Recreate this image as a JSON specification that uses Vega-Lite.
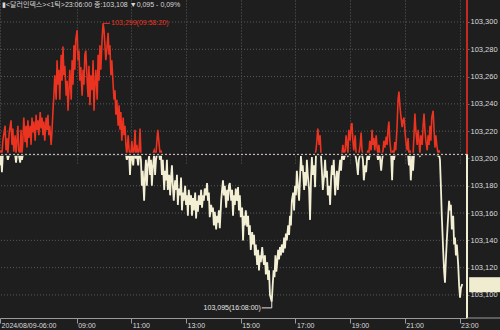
{
  "$schema": "https://vega.github.io/schema/vega-lite/v6.json",
  "width": 467,
  "height": 318,
  "autosize": {"type": "none"},
  "padding": {"left": 0, "top": 0, "right": 33, "bottom": 12},
  "background": "#1e1e1e",
  "config": {"view": {"stroke": null}},
  "datasets": {
    "ticks": [
      {"t":372,"p":103.195},{"t":374,"p":103.206},{"t":376,"p":103.190},{"t":378,"p":103.213},{"t":383,"p":103.224},{"t":385,"p":103.206},{"t":387,"p":103.215},{"t":389,"p":103.199},{"t":392,"p":103.219},{"t":396,"p":103.228},{"t":398,"p":103.210},{"t":400,"p":103.222},{"t":402,"p":103.205},{"t":405,"p":103.217},{"t":407,"p":103.197},{"t":409,"p":103.213},{"t":411,"p":103.224},{"t":413,"p":103.206},{"t":416,"p":103.197},{"t":418,"p":103.221},{"t":420,"p":103.199},{"t":422,"p":103.213},{"t":424,"p":103.230},{"t":427,"p":103.212},{"t":429,"p":103.224},{"t":431,"p":103.208},{"t":433,"p":103.228},{"t":435,"p":103.215},{"t":438,"p":103.224},{"t":440,"p":103.210},{"t":442,"p":103.230},{"t":444,"p":103.219},{"t":446,"p":103.227},{"t":449,"p":103.213},{"t":451,"p":103.232},{"t":453,"p":103.221},{"t":455,"p":103.228},{"t":457,"p":103.217},{"t":460,"p":103.234},{"t":462,"p":103.222},{"t":464,"p":103.230},{"t":466,"p":103.217},{"t":468,"p":103.227},{"t":470,"p":103.213},{"t":473,"p":103.230},{"t":475,"p":103.221},{"t":477,"p":103.232},{"t":479,"p":103.217},{"t":481,"p":103.224},{"t":484,"p":103.210},{"t":486,"p":103.221},{"t":488,"p":103.235},{"t":490,"p":103.246},{"t":492,"p":103.261},{"t":495,"p":103.243},{"t":497,"p":103.272},{"t":499,"p":103.254},{"t":501,"p":103.265},{"t":503,"p":103.243},{"t":506,"p":103.276},{"t":508,"p":103.257},{"t":510,"p":103.282},{"t":512,"p":103.261},{"t":514,"p":103.268},{"t":517,"p":103.246},{"t":519,"p":103.257},{"t":521,"p":103.235},{"t":523,"p":103.250},{"t":525,"p":103.265},{"t":528,"p":103.243},{"t":530,"p":103.272},{"t":532,"p":103.254},{"t":534,"p":103.283},{"t":536,"p":103.265},{"t":538,"p":103.287},{"t":541,"p":103.294},{"t":543,"p":103.272},{"t":545,"p":103.279},{"t":547,"p":103.257},{"t":549,"p":103.267},{"t":552,"p":103.246},{"t":554,"p":103.265},{"t":556,"p":103.254},{"t":558,"p":103.276},{"t":560,"p":103.279},{"t":563,"p":103.257},{"t":565,"p":103.245},{"t":567,"p":103.268},{"t":569,"p":103.239},{"t":571,"p":103.261},{"t":574,"p":103.250},{"t":576,"p":103.272},{"t":578,"p":103.235},{"t":580,"p":103.254},{"t":582,"p":103.265},{"t":585,"p":103.243},{"t":587,"p":103.276},{"t":589,"p":103.257},{"t":591,"p":103.283},{"t":593,"p":103.265},{"t":596,"p":103.289},{"t":598,"p":103.299},{"t":600,"p":103.294},{"t":602,"p":103.283},{"t":604,"p":103.272},{"t":606,"p":103.279},{"t":609,"p":103.292},{"t":611,"p":103.276},{"t":613,"p":103.283},{"t":615,"p":103.261},{"t":617,"p":103.272},{"t":620,"p":103.254},{"t":622,"p":103.243},{"t":624,"p":103.250},{"t":626,"p":103.232},{"t":628,"p":103.243},{"t":631,"p":103.224},{"t":633,"p":103.239},{"t":635,"p":103.221},{"t":637,"p":103.234},{"t":639,"p":103.213},{"t":642,"p":103.230},{"t":644,"p":103.217},{"t":646,"p":103.224},{"t":648,"p":103.210},{"t":650,"p":103.199},{"t":653,"p":103.217},{"t":655,"p":103.206},{"t":657,"p":103.188},{"t":659,"p":103.202},{"t":661,"p":103.213},{"t":664,"p":103.195},{"t":666,"p":103.206},{"t":668,"p":103.221},{"t":670,"p":103.200},{"t":672,"p":103.210},{"t":675,"p":103.195},{"t":677,"p":103.206},{"t":679,"p":103.222},{"t":681,"p":103.199},{"t":683,"p":103.180},{"t":685,"p":103.191},{"t":688,"p":103.169},{"t":690,"p":103.188},{"t":692,"p":103.199},{"t":694,"p":103.180},{"t":696,"p":103.195},{"t":699,"p":103.202},{"t":701,"p":103.188},{"t":703,"p":103.199},{"t":705,"p":103.180},{"t":707,"p":103.193},{"t":710,"p":103.206},{"t":712,"p":103.188},{"t":714,"p":103.199},{"t":716,"p":103.213},{"t":718,"p":103.221},{"t":721,"p":103.210},{"t":723,"p":103.199},{"t":725,"p":103.206},{"t":727,"p":103.188},{"t":729,"p":103.199},{"t":732,"p":103.177},{"t":734,"p":103.191},{"t":736,"p":103.184},{"t":738,"p":103.199},{"t":740,"p":103.177},{"t":743,"p":103.188},{"t":745,"p":103.173},{"t":747,"p":103.186},{"t":749,"p":103.195},{"t":751,"p":103.180},{"t":753,"p":103.169},{"t":756,"p":103.184},{"t":758,"p":103.177},{"t":760,"p":103.188},{"t":762,"p":103.166},{"t":764,"p":103.178},{"t":767,"p":103.173},{"t":769,"p":103.186},{"t":771,"p":103.162},{"t":773,"p":103.175},{"t":775,"p":103.169},{"t":778,"p":103.180},{"t":780,"p":103.166},{"t":782,"p":103.173},{"t":784,"p":103.158},{"t":786,"p":103.177},{"t":789,"p":103.166},{"t":791,"p":103.173},{"t":793,"p":103.158},{"t":795,"p":103.171},{"t":797,"p":103.162},{"t":800,"p":103.175},{"t":802,"p":103.156},{"t":804,"p":103.169},{"t":806,"p":103.161},{"t":808,"p":103.173},{"t":811,"p":103.166},{"t":813,"p":103.177},{"t":815,"p":103.164},{"t":817,"p":103.173},{"t":819,"p":103.169},{"t":821,"p":103.178},{"t":824,"p":103.173},{"t":826,"p":103.182},{"t":828,"p":103.169},{"t":830,"p":103.175},{"t":832,"p":103.157},{"t":835,"p":103.166},{"t":837,"p":103.161},{"t":839,"p":103.164},{"t":841,"p":103.151},{"t":843,"p":103.161},{"t":846,"p":103.148},{"t":848,"p":103.158},{"t":850,"p":103.153},{"t":852,"p":103.162},{"t":854,"p":103.149},{"t":857,"p":103.169},{"t":859,"p":103.177},{"t":861,"p":103.184},{"t":863,"p":103.173},{"t":865,"p":103.180},{"t":868,"p":103.164},{"t":870,"p":103.177},{"t":872,"p":103.169},{"t":874,"p":103.180},{"t":876,"p":103.182},{"t":879,"p":103.169},{"t":881,"p":103.177},{"t":883,"p":103.158},{"t":885,"p":103.173},{"t":887,"p":103.166},{"t":889,"p":103.178},{"t":892,"p":103.169},{"t":894,"p":103.179},{"t":896,"p":103.162},{"t":898,"p":103.173},{"t":900,"p":103.157},{"t":903,"p":103.164},{"t":905,"p":103.140},{"t":907,"p":103.158},{"t":909,"p":103.151},{"t":911,"p":103.162},{"t":914,"p":103.150},{"t":916,"p":103.158},{"t":918,"p":103.144},{"t":920,"p":103.151},{"t":922,"p":103.133},{"t":925,"p":103.146},{"t":927,"p":103.137},{"t":929,"p":103.144},{"t":931,"p":103.129},{"t":933,"p":103.137},{"t":936,"p":103.122},{"t":938,"p":103.133},{"t":940,"p":103.118},{"t":942,"p":103.129},{"t":944,"p":103.124},{"t":947,"p":103.135},{"t":949,"p":103.127},{"t":951,"p":103.122},{"t":953,"p":103.129},{"t":955,"p":103.115},{"t":958,"p":103.124},{"t":960,"p":103.111},{"t":962,"p":103.118},{"t":964,"p":103.100},{"t":968,"p":103.095},{"t":970,"p":103.107},{"t":972,"p":103.118},{"t":974,"p":103.113},{"t":976,"p":103.129},{"t":978,"p":103.117},{"t":980,"p":103.124},{"t":982,"p":103.133},{"t":984,"p":103.126},{"t":986,"p":103.135},{"t":988,"p":103.129},{"t":990,"p":103.137},{"t":993,"p":103.131},{"t":995,"p":103.142},{"t":997,"p":103.134},{"t":999,"p":103.145},{"t":1001,"p":103.140},{"t":1004,"p":103.151},{"t":1006,"p":103.144},{"t":1008,"p":103.158},{"t":1010,"p":103.151},{"t":1012,"p":103.169},{"t":1015,"p":103.175},{"t":1017,"p":103.162},{"t":1019,"p":103.180},{"t":1021,"p":103.173},{"t":1023,"p":103.191},{"t":1026,"p":103.177},{"t":1028,"p":103.169},{"t":1030,"p":103.186},{"t":1032,"p":103.202},{"t":1034,"p":103.191},{"t":1036,"p":103.195},{"t":1039,"p":103.177},{"t":1041,"p":103.190},{"t":1043,"p":103.180},{"t":1045,"p":103.199},{"t":1047,"p":103.188},{"t":1050,"p":103.177},{"t":1052,"p":103.155},{"t":1054,"p":103.184},{"t":1056,"p":103.201},{"t":1058,"p":103.188},{"t":1061,"p":103.195},{"t":1063,"p":103.179},{"t":1065,"p":103.206},{"t":1067,"p":103.213},{"t":1069,"p":103.222},{"t":1072,"p":103.210},{"t":1074,"p":103.217},{"t":1076,"p":103.202},{"t":1078,"p":103.191},{"t":1080,"p":103.177},{"t":1083,"p":103.188},{"t":1085,"p":103.199},{"t":1087,"p":103.186},{"t":1089,"p":103.191},{"t":1091,"p":103.173},{"t":1094,"p":103.180},{"t":1096,"p":103.166},{"t":1098,"p":103.184},{"t":1100,"p":103.195},{"t":1102,"p":103.188},{"t":1104,"p":103.199},{"t":1107,"p":103.173},{"t":1109,"p":103.184},{"t":1111,"p":103.191},{"t":1113,"p":103.177},{"t":1115,"p":103.188},{"t":1118,"p":103.199},{"t":1120,"p":103.191},{"t":1122,"p":103.202},{"t":1124,"p":103.210},{"t":1126,"p":103.199},{"t":1129,"p":103.206},{"t":1131,"p":103.217},{"t":1133,"p":103.211},{"t":1135,"p":103.202},{"t":1137,"p":103.221},{"t":1140,"p":103.213},{"t":1142,"p":103.224},{"t":1144,"p":103.226},{"t":1146,"p":103.213},{"t":1148,"p":103.206},{"t":1151,"p":103.217},{"t":1153,"p":103.200},{"t":1155,"p":103.195},{"t":1157,"p":103.188},{"t":1159,"p":103.199},{"t":1162,"p":103.210},{"t":1164,"p":103.219},{"t":1166,"p":103.206},{"t":1168,"p":103.199},{"t":1170,"p":103.184},{"t":1173,"p":103.195},{"t":1175,"p":103.190},{"t":1177,"p":103.200},{"t":1179,"p":103.206},{"t":1181,"p":103.199},{"t":1183,"p":103.213},{"t":1186,"p":103.206},{"t":1188,"p":103.221},{"t":1190,"p":103.210},{"t":1192,"p":103.215},{"t":1194,"p":103.206},{"t":1197,"p":103.217},{"t":1199,"p":103.208},{"t":1201,"p":103.199},{"t":1203,"p":103.210},{"t":1205,"p":103.202},{"t":1208,"p":103.191},{"t":1210,"p":103.199},{"t":1212,"p":103.206},{"t":1214,"p":103.213},{"t":1216,"p":103.208},{"t":1219,"p":103.216},{"t":1221,"p":103.210},{"t":1223,"p":103.221},{"t":1225,"p":103.227},{"t":1227,"p":103.213},{"t":1230,"p":103.202},{"t":1232,"p":103.184},{"t":1234,"p":103.206},{"t":1236,"p":103.199},{"t":1238,"p":103.212},{"t":1240,"p":103.206},{"t":1243,"p":103.224},{"t":1245,"p":103.243},{"t":1247,"p":103.249},{"t":1249,"p":103.239},{"t":1251,"p":103.232},{"t":1254,"p":103.223},{"t":1256,"p":103.228},{"t":1258,"p":103.230},{"t":1260,"p":103.221},{"t":1262,"p":103.213},{"t":1265,"p":103.206},{"t":1267,"p":103.215},{"t":1269,"p":103.195},{"t":1271,"p":103.206},{"t":1273,"p":103.184},{"t":1276,"p":103.202},{"t":1278,"p":103.191},{"t":1280,"p":103.217},{"t":1282,"p":103.233},{"t":1284,"p":103.221},{"t":1287,"p":103.210},{"t":1289,"p":103.221},{"t":1291,"p":103.213},{"t":1293,"p":103.202},{"t":1295,"p":103.217},{"t":1298,"p":103.210},{"t":1300,"p":103.224},{"t":1302,"p":103.233},{"t":1304,"p":103.221},{"t":1306,"p":103.213},{"t":1309,"p":103.206},{"t":1311,"p":103.217},{"t":1313,"p":103.210},{"t":1315,"p":103.224},{"t":1317,"p":103.213},{"t":1319,"p":103.230},{"t":1322,"p":103.235},{"t":1324,"p":103.221},{"t":1326,"p":103.208},{"t":1328,"p":103.217},{"t":1330,"p":103.210},{"t":1333,"p":103.202},{"t":1335,"p":103.206},{"t":1337,"p":103.199},{"t":1339,"p":103.180},{"t":1341,"p":103.158},{"t":1344,"p":103.133},{"t":1346,"p":103.118},{"t":1348,"p":103.109},{"t":1350,"p":103.126},{"t":1352,"p":103.140},{"t":1355,"p":103.158},{"t":1357,"p":103.169},{"t":1359,"p":103.162},{"t":1361,"p":103.166},{"t":1363,"p":103.148},{"t":1366,"p":103.158},{"t":1368,"p":103.137},{"t":1370,"p":103.142},{"t":1372,"p":103.129},{"t":1374,"p":103.137},{"t":1377,"p":103.122},{"t":1379,"p":103.107},{"t":1381,"p":103.098},{"t":1383,"p":103.105},{"t":1386,"p":103.108}
    ]
  },
  "layer": [
    {
      "data": {"values": [{"p":103.1},{"p":103.12},{"p":103.14},{"p":103.16},{"p":103.18},{"p":103.22},{"p":103.24},{"p":103.26},{"p":103.28},{"p":103.3}]},
      "mark": {"type": "rule", "color": "#5a5a5a", "strokeDash": [1, 2], "strokeWidth": 1},
      "encoding": {
        "y": {
          "field": "p", "type": "quantitative",
          "scale": {"domain": [103.0831, 103.3161], "nice": false, "zero": false},
          "axis": {
            "orient": "right",
            "values": [103.1, 103.12, 103.14, 103.16, 103.18, 103.2, 103.22, 103.24, 103.26, 103.28, 103.3],
            "labelExpr": "replace(format(datum.value, '.3f'), '.', ',')",
            "grid": false, "domain": false,
            "tickSize": 2, "tickColor": "#6a6a6a",
            "labelColor": "#dcdcdc", "labelFontSize": 7.5,
            "labelFont": "Liberation Sans",
            "labelPadding": 1, "labelBaseline": "middle", "title": null
          }
        }
      }
    },
    {
      "data": {"name": "ticks"},
      "mark": {"type": "line", "color": "#f2efd4", "strokeWidth": 1.8},
      "encoding": {
        "x": {
          "field": "t", "type": "quantitative",
          "scale": {"domain": [371.8, 1396.3], "nice": false, "zero": false},
          "axis": {
            "values": [372, 540, 660, 780, 900, 1020, 1140, 1260, 1380],
            "labelExpr": "datum.value < 400 ? '2024/08/09-06:00' : (datum.value < 600 ? '0' : '') + floor(datum.value / 60) + ':00'",
            "labelAlign": "left", "labelBaseline": "top", "labelPadding": -2, "labelOffset": 1,
            "labelFlush": false, "labelOverlap": false, "labelBound": false,
            "tickSize": 5, "tickColor": "#9a9a9a",
            "domainColor": "#9a9a9a", "domainWidth": 1,
            "labelColor": "#dcdcdc", "labelFontSize": 7,
            "labelFont": "Liberation Sans",
            "grid": true, "gridColor": "#5a5a5a", "gridDash": [1, 2], "gridWidth": 1,
            "title": null
          }
        },
        "y": {
          "field": "p", "type": "quantitative",
          "scale": {"domain": [103.0831, 103.203], "range": [318, 154.4], "clamp": true, "nice": false, "zero": false},
          "axis": null
        }
      }
    },
    {
      "data": {"name": "ticks"},
      "mark": {"type": "line", "color": "#ea3320", "strokeWidth": 1.6},
      "encoding": {
        "x": {"field": "t", "type": "quantitative", "scale": {"domain": [371.8, 1396.3], "nice": false, "zero": false}, "axis": {"title": null}},
        "y": {
          "field": "p", "type": "quantitative",
          "scale": {"domain": [103.203, 103.3161], "range": [154.4, 0], "clamp": true, "nice": false, "zero": false},
          "axis": null
        }
      }
    },
    {
      "layer": [
        {
          "data": {"values": [{"p": 103.203}]},
          "mark": {"type": "rule", "color": "#1e1e1e", "strokeWidth": 3},
          "encoding": {"y": {"field": "p", "type": "quantitative", "scale": {"domain": [103.0831, 103.3161], "nice": false, "zero": false}, "axis": null}}
        },
        {
          "data": {"values": [{"p": 103.203}]},
          "mark": {"type": "rule", "color": "#d8d8d8", "strokeDash": [2, 2], "strokeWidth": 1},
          "encoding": {"y": {"field": "p", "type": "quantitative", "scale": {"domain": [103.0831, 103.3161], "nice": false, "zero": false}, "axis": null}}
        },
        {
          "data": {"values": [{"t": 1396.3, "lo": 103.203, "hi": 103.3161}]},
          "mark": {"type": "rule", "color": "#c42a1e", "strokeWidth": 2},
          "encoding": {
            "x": {"field": "t", "type": "quantitative", "scale": {"domain": [371.8, 1396.3], "nice": false, "zero": false}, "axis": {"title": null}},
            "y": {"field": "lo", "type": "quantitative", "scale": {"domain": [103.0831, 103.3161], "nice": false, "zero": false}, "axis": null},
            "y2": {"field": "hi"}
          }
        },
        {
          "data": {"values": [{"t": 1396.3, "lo": 103.0831, "hi": 103.203}]},
          "mark": {"type": "rule", "color": "#f2efd4", "strokeWidth": 2},
          "encoding": {
            "x": {"field": "t", "type": "quantitative", "scale": {"domain": [371.8, 1396.3], "nice": false, "zero": false}, "axis": {"title": null}},
            "y": {"field": "lo", "type": "quantitative", "scale": {"domain": [103.0831, 103.3161], "nice": false, "zero": false}, "axis": null},
            "y2": {"field": "hi"}
          }
        },
        {
          "data": {"values": [{"t": 1396.3, "t2": 1500, "p": 103.0831}]},
          "mark": {"type": "rule", "color": "#9a9a9a", "strokeWidth": 1},
          "encoding": {
            "x": {"field": "t", "type": "quantitative", "scale": {"domain": [371.8, 1396.3], "nice": false, "zero": false}, "axis": {"title": null}},
            "x2": {"field": "t2"},
            "y": {"field": "p", "type": "quantitative", "scale": {"domain": [103.0831, 103.3161], "nice": false, "zero": false}, "axis": null}
          }
        },
        {
          "data": {"values": [{"t": 1401, "t2": 1470, "lo": 103.102, "hi": 103.113}]},
          "mark": {"type": "rect", "color": "#efecd0", "opacity": 1},
          "encoding": {
            "x": {"field": "t", "type": "quantitative", "scale": {"domain": [371.8, 1396.3], "nice": false, "zero": false}, "axis": {"title": null}},
            "x2": {"field": "t2"},
            "y": {"field": "lo", "type": "quantitative", "scale": {"domain": [103.0831, 103.3161], "nice": false, "zero": false}, "axis": null},
            "y2": {"field": "hi"}
          }
        },
        {
          "data": {"values": [{"t": 598, "t2": 613, "p": 103.299}]},
          "mark": {"type": "rule", "color": "#ea3320", "strokeWidth": 1},
          "encoding": {
            "x": {"field": "t", "type": "quantitative", "scale": {"domain": [371.8, 1396.3], "nice": false, "zero": false}, "axis": {"title": null}},
            "x2": {"field": "t2"},
            "y": {"field": "p", "type": "quantitative", "scale": {"domain": [103.0831, 103.3161], "nice": false, "zero": false}, "axis": null}
          }
        },
        {
          "data": {"values": [{"t": 616, "p": 103.299, "label": "103,299(09:58:20)"}]},
          "mark": {"type": "text", "align": "left", "baseline": "middle", "color": "#ea3320", "fontSize": 7, "font": "Liberation Sans"},
          "encoding": {
            "x": {"field": "t", "type": "quantitative", "scale": {"domain": [371.8, 1396.3], "nice": false, "zero": false}, "axis": {"title": null}},
            "y": {"field": "p", "type": "quantitative", "scale": {"domain": [103.0831, 103.3161], "nice": false, "zero": false}, "axis": null},
            "text": {"field": "label"}
          }
        },
        {
          "data": {"values": [{"t": 968, "p": 103.095, "p2": 103.0905}]},
          "mark": {"type": "rule", "color": "#e6e6e6", "strokeWidth": 1},
          "encoding": {
            "x": {"field": "t", "type": "quantitative", "scale": {"domain": [371.8, 1396.3], "nice": false, "zero": false}, "axis": {"title": null}},
            "y": {"field": "p", "type": "quantitative", "scale": {"domain": [103.0831, 103.3161], "nice": false, "zero": false}, "axis": null},
            "y2": {"field": "p2"}
          }
        },
        {
          "data": {"values": [{"t": 946, "t2": 968, "p": 103.0905}]},
          "mark": {"type": "rule", "color": "#e6e6e6", "strokeWidth": 1},
          "encoding": {
            "x": {"field": "t", "type": "quantitative", "scale": {"domain": [371.8, 1396.3], "nice": false, "zero": false}, "axis": {"title": null}},
            "x2": {"field": "t2"},
            "y": {"field": "p", "type": "quantitative", "scale": {"domain": [103.0831, 103.3161], "nice": false, "zero": false}, "axis": null}
          }
        },
        {
          "data": {"values": [{"t": 944, "p": 103.0905, "label": "103,095(16:08:00)"}]},
          "mark": {"type": "text", "align": "right", "baseline": "middle", "color": "#e6e6e6", "fontSize": 7, "font": "Liberation Sans"},
          "encoding": {
            "x": {"field": "t", "type": "quantitative", "scale": {"domain": [371.8, 1396.3], "nice": false, "zero": false}, "axis": {"title": null}},
            "y": {"field": "p", "type": "quantitative", "scale": {"domain": [103.0831, 103.3161], "nice": false, "zero": false}, "axis": null},
            "text": {"field": "label"}
          }
        },
        {
          "data": {"values": [{"t": 371.8, "p": 103.3161, "label": "▮<달러인덱스><1틱>23:06:00 종:103,108 ▼0,095 - 0,09%"}]},
          "mark": {"type": "text", "align": "left", "baseline": "top", "dx": 2, "dy": 1, "color": "#d8d8d8", "fontSize": 7, "font": "Liberation Sans, Noto Sans CJK KR"},
          "encoding": {
            "x": {"field": "t", "type": "quantitative", "scale": {"domain": [371.8, 1396.3], "nice": false, "zero": false}, "axis": {"title": null}},
            "y": {"field": "p", "type": "quantitative", "scale": {"domain": [103.0831, 103.3161], "nice": false, "zero": false}, "axis": null},
            "text": {"field": "label"}
          }
        }
      ]
    }
  ],
  "resolve": {"scale": {"y": "independent"}, "axis": {"y": "independent"}}
}
